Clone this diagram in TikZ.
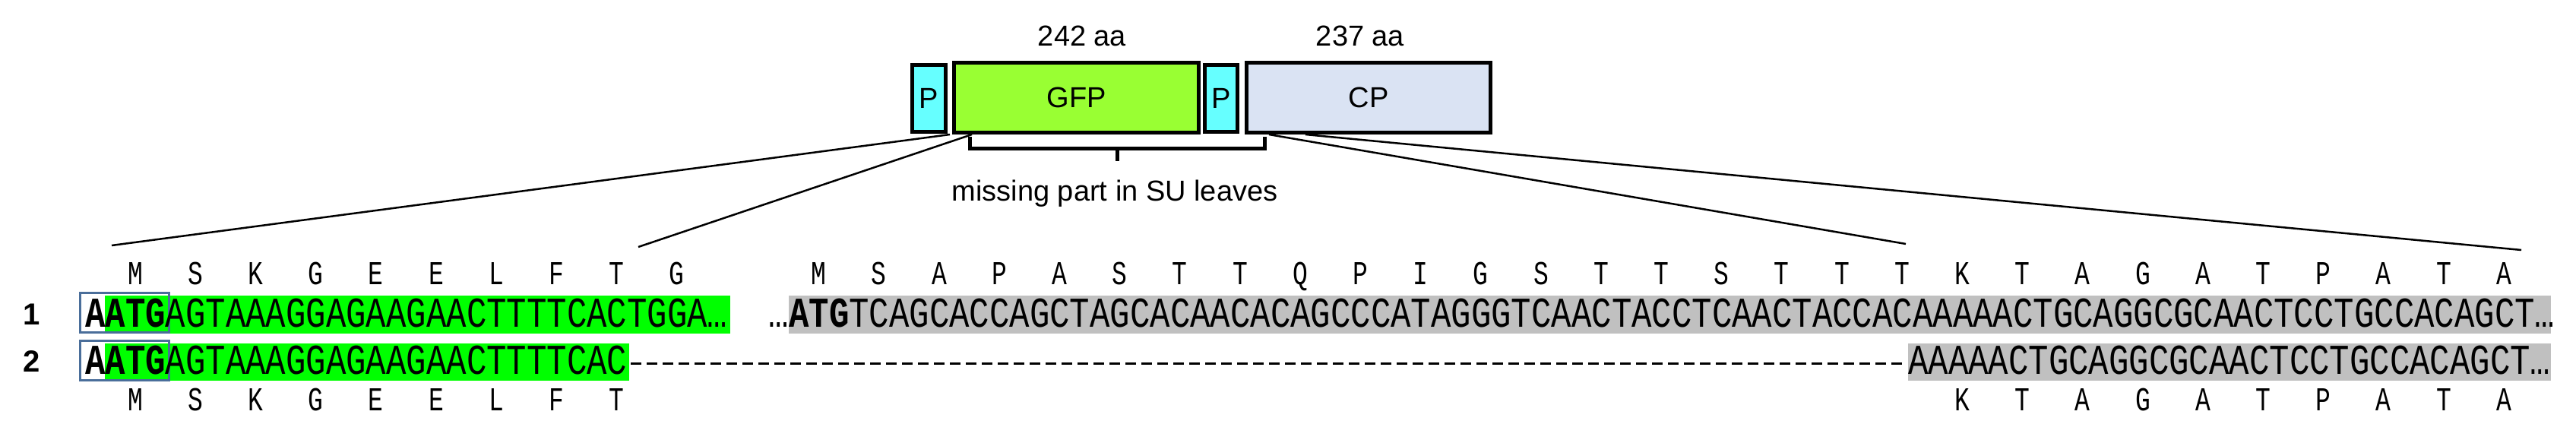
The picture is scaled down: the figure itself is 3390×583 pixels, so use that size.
\documentclass[tikz,border=0pt]{standalone}
\usepackage{fontspec}
\usepackage{graphicx}
\setmainfont{Liberation Sans}
\newfontfamily\seqfont{Liberation Mono}
\definecolor{seqgreen}{HTML}{00FF00}
\definecolor{seqgray}{HTML}{C0C0C0}
\definecolor{pcyan}{HTML}{66FFFF}
\definecolor{gfpgreen}{HTML}{99FF33}
\definecolor{cpblue}{HTML}{DAE3F3}
\definecolor{atgblue}{HTML}{4A6E9A}
\newcommand{\sq}[1]{\scalebox{0.786}[1]{\seqfont\fontsize{56}{60}\selectfont #1}}
\newcommand{\amac}[1]{\scalebox{0.75}[1]{\seqfont\fontsize{44}{48}\selectfont #1}}
\begin{document}
\begin{tikzpicture}[x=1pt,y=-1pt,
  genebox/.style={draw=black,line width=5pt,inner sep=0pt,anchor=north west,font=\fontsize{38}{40}\selectfont},
  seqtext/.style={inner sep=0pt,anchor=base west},
  aalet/.style={inner sep=0pt,anchor=base},
  bigtext/.style={inner sep=0pt,font=\fontsize{38}{40}\selectfont},
  conn/.style={line width=2.5pt},
  atgbox/.style={draw=atgblue,line width=3pt}]
\useasboundingbox (0,0) rectangle (3390,583);
% gene map
\node[genebox,fill=pcyan,minimum width=44pt,minimum height=88pt] (p1) at (1198,83) {P};
\node[genebox,fill=gfpgreen,minimum width=322pt,minimum height=92pt] (gfp) at (1253,80) {GFP};
\node[genebox,fill=pcyan,minimum width=43pt,minimum height=88pt] (p2) at (1583,83) {P};
\node[genebox,fill=cpblue,minimum width=321pt,minimum height=92pt] (cp) at (1638,80) {CP};
\node[bigtext] (l242) at (1424,47) {242 aa};
\node[bigtext] (l237) at (1790,47) {237 aa};
\draw[line width=5pt] (1276,180) -- (1276,195) -- (1664,195) -- (1664,180) (1470,195) -- (1470,212);
\node[bigtext] (miss) at (1467,255) {missing part in SU leaves};
% backgrounds
\fill[seqgreen] (138,389) rectangle (961,439);
\fill[seqgreen] (138,452) rectangle (828,501);
\fill[seqgray] (1038,389) rectangle (3357,439);
\fill[seqgray] (2511,452) rectangle (3357,501);
\draw[atgbox] (105,385) rectangle (222,437);
\draw[atgbox] (105,448) rectangle (222,500);
% row labels
\node[inner sep=0pt,font=\bfseries\fontsize{40}{42}\selectfont] (r1) at (42,414) {1};
\node[inner sep=0pt,font=\bfseries\fontsize{40}{42}\selectfont] (r2) at (42,476) {2};
% sequences
\node[seqtext] (s1a) at (112,430) {\sq{\textbf{AATG}AGTAAAGGAGAAGAACTTTTCACTGGA…}};
\node[seqtext] (s1b) at (1011.6,430) {\sq{…\textbf{ATG}TCAGCACCAGCTAGCACAACACAGCCCATAGGGTCAACTACCTCAACTACCACAAAAACTGCAGGCGCAACTCCTGCCACAGCT…}};
\node[seqtext] (s2a) at (112,492) {\sq{\textbf{AATG}AGTAAAGGAGAAGAACTTTTCAC}};
\node[seqtext] (s2b) at (2511,492) {\sq{AAAAACTGCAGGCGCAACTCCTGCCACAGCT…}};
\coordinate (d1) at (830,478);
\coordinate (d2) at (2509,478);
\draw[line width=3pt,dash pattern=on 14pt off 7pt] (d1) -- (d2);
% amino acids
\foreach \l [count=\i from 0] in {M,S,K,G,E,E,L,F,T,G}
  \node[aalet] (ta\i) at (178+79.2*\i,374) {\amac{\l}};
\foreach \l [count=\i from 0] in {M,S,A,P,A,S,T,T,Q,P,I,G,S,T,T,S,T,T,T,K,T,A,G,A,T,P,A,T,A}
  \node[aalet] (tb\i) at (1077.6+79.2*\i,374) {\amac{\l}};
\foreach \l [count=\i from 0] in {M,S,K,G,E,E,L,F,T}
  \node[aalet] (ba\i) at (178+79.2*\i,540) {\amac{\l}};
\foreach \l [count=\i from 19] in {K,T,A,G,A,T,P,A,T,A}
  \node[aalet] (bb\i) at (1077.6+79.2*\i,540) {\amac{\l}};
% zoom lines
\coordinate (e1) at (147,323);
\coordinate (e2) at (840,325);
\coordinate (e3) at (2508,321);
\coordinate (e4) at (3318,329);
\draw[conn] (gfp.south west) ++(-3,0) -- (e1);
\draw[conn] (gfp.south west) ++(26,0) -- (e2);
\draw[conn] (cp.south west) ++(32,0) -- (e3);
\draw[conn] (cp.south west) ++(80,0) -- (e4);
\end{tikzpicture}
\end{document}
